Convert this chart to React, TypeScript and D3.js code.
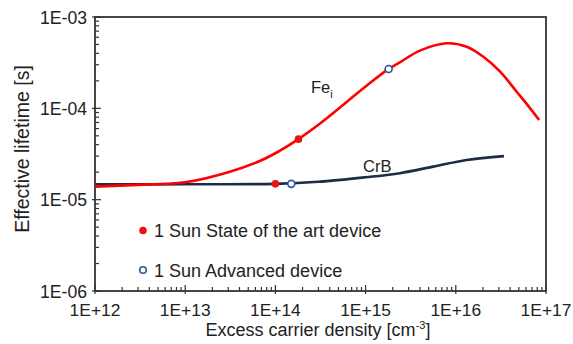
import { useEffect, useRef } from "react";
import * as d3 from "d3";

// Fe_i curve (excess carrier density [cm-3], lifetime [s])
const feDensity = [1e12, 4e12, 1e13, 3e13, 7e13, 1.1e14, 1.8e14, 3e14, 1e15, 1.8e15, 2.4e15, 4e15, 7.9e15, 1.32e16, 2.02e16, 3.1e16, 4.73e16, 6.1e16, 8.4e16];
const feLifetime = [1.39e-5, 1.47e-5, 1.55e-5, 2.0e-5, 2.7e-5, 3.4e-5, 4.6e-5, 6.6e-5, 1.73e-4, 2.7e-4, 3.19e-4, 4.28e-4, 5.15e-4, 4.73e-4, 3.67e-4, 2.52e-4, 1.52e-4, 1.12e-4, 7.45e-5];

// CrB curve
const crbDensity = [1e12, 1e13, 1e14, 3e14, 1e15, 2.4e15, 5.6e15, 1.32e16, 3.42e16];
const crbLifetime = [1.47e-5, 1.475e-5, 1.49e-5, 1.57e-5, 1.76e-5, 1.95e-5, 2.3e-5, 2.72e-5, 3.0e-5];

// operating points
const stateOfArt = [
  [1.8e14, 4.6e-5],
  [1e14, 1.49e-5],
];
const advanced = [
  [1.8e15, 2.7e-4],
  [1.5e14, 1.49e-5],
];

const xTickLabels = ["1E+12", "1E+13", "1E+14", "1E+15", "1E+16", "1E+17"];
const yTickLabels = ["1E-06", "1E-05", "1E-04", "1E-03"];

const FONT = "'Liberation Sans', Arial, sans-serif";

export default function App() {
  const svgRef = useRef<SVGSVGElement>(null);

  useEffect(() => {
    const svg = d3.select(svgRef.current);
    svg.selectAll("*").remove();

    const width = 573;
    const height = 344;
    const left = 95;
    const right = 546;
    const top = 17;
    const bottom = 291;

    const x = d3.scaleLog().domain([1e12, 1e17]).range([left, right]);
    const y = d3.scaleLog().domain([1e-6, 1e-3]).range([bottom, top]);

    svg.append("rect").attr("width", width).attr("height", height).attr("fill", "#fff");

    const axisColor = "#333";

    // minor + major ticks, pointing inward
    const xDecades = d3.range(12, 17);
    xDecades.forEach(d => {
      for (let m = 2; m <= 9; m++) {
        const px = x(m * Math.pow(10, d));
        svg.append("line")
          .attr("x1", px).attr("x2", px)
          .attr("y1", bottom).attr("y2", bottom - 4)
          .attr("stroke", axisColor).attr("stroke-width", 1.2);
      }
    });
    xTickLabels.forEach((t, i) => {
      const px = x(Math.pow(10, 12 + i));
      svg.append("line")
        .attr("x1", px).attr("x2", px)
        .attr("y1", bottom + 3).attr("y2", bottom - 6)
        .attr("stroke", axisColor).attr("stroke-width", 1.2);
      svg.append("text")
        .attr("x", px).attr("y", bottom + 25)
        .attr("text-anchor", "middle")
        .attr("font-family", FONT).attr("font-size", 17.4)
        .attr("fill", "#222")
        .text(t);
    });

    const yDecades = d3.range(-6, -3);
    yDecades.forEach(d => {
      for (let m = 2; m <= 9; m++) {
        const py = y(m * Math.pow(10, d));
        svg.append("line")
          .attr("x1", left).attr("x2", left + 4)
          .attr("y1", py).attr("y2", py)
          .attr("stroke", axisColor).attr("stroke-width", 1.2);
      }
    });
    yTickLabels.forEach((t, i) => {
      const py = y(Math.pow(10, -6 + i));
      svg.append("line")
        .attr("x1", left - 3).attr("x2", left + 6)
        .attr("y1", py).attr("y2", py)
        .attr("stroke", axisColor).attr("stroke-width", 1.2);
      svg.append("text")
        .attr("x", left - 8).attr("y", py + 6.5)
        .attr("text-anchor", "end")
        .attr("font-family", FONT).attr("font-size", 17.6)
        .attr("fill", "#222")
        .text(t);
    });

    // frame
    svg.append("rect")
      .attr("x", left).attr("y", top)
      .attr("width", right - left).attr("height", bottom - top)
      .attr("fill", "none")
      .attr("stroke", axisColor).attr("stroke-width", 1.8);

    const line = d3.line<[number, number]>()
      .x(d => x(d[0]))
      .y(d => y(d[1]))
      .curve(d3.curveCatmullRom.alpha(0.5));

    const crbPts = crbDensity.map((v, i) => [v, crbLifetime[i]] as [number, number]);
    const fePts = feDensity.map((v, i) => [v, feLifetime[i]] as [number, number]);

    svg.append("path")
      .attr("d", line(crbPts))
      .attr("fill", "none")
      .attr("stroke", "#1c2d45")
      .attr("stroke-width", 2.6);

    svg.append("path")
      .attr("d", line(fePts))
      .attr("fill", "none")
      .attr("stroke", "#ff0000")
      .attr("stroke-width", 2.6);

    // markers
    svg.selectAll(".soa")
      .data(stateOfArt)
      .enter()
      .append("circle")
      .attr("cx", d => x(d[0]))
      .attr("cy", d => y(d[1]))
      .attr("r", 3.8)
      .attr("fill", "#ee1111");

    svg.selectAll(".adv")
      .data(advanced)
      .enter()
      .append("circle")
      .attr("cx", d => x(d[0]))
      .attr("cy", d => y(d[1]))
      .attr("r", 3.5)
      .attr("fill", "#fff")
      .attr("stroke", "#2f5597")
      .attr("stroke-width", 1.6);

    // curve labels
    const fe = svg.append("text")
      .attr("x", 311).attr("y", 93)
      .attr("font-family", FONT).attr("font-size", 16.5)
      .attr("fill", "#222");
    fe.append("tspan").text("Fe");
    fe.append("tspan").attr("font-size", 11).attr("dy", 5).text("i");

    svg.append("text")
      .attr("x", 363).attr("y", 172)
      .attr("font-family", FONT).attr("font-size", 16.5)
      .attr("fill", "#222")
      .text("CrB");

    // legend
    svg.append("circle").attr("cx", 143).attr("cy", 230.5).attr("r", 3.8).attr("fill", "#ee1111");
    svg.append("text")
      .attr("x", 154).attr("y", 236.5)
      .attr("font-family", FONT).attr("font-size", 18)
      .attr("fill", "#222")
      .text("1 Sun State of the art device");

    svg.append("circle").attr("cx", 143).attr("cy", 270)
      .attr("r", 3.3).attr("fill", "#fff")
      .attr("stroke", "#2f5597").attr("stroke-width", 1.6);
    svg.append("text")
      .attr("x", 154).attr("y", 276.5)
      .attr("font-family", FONT).attr("font-size", 18)
      .attr("fill", "#222")
      .text("1 Sun Advanced device");

    // axis titles
    const xt = svg.append("text")
      .attr("x", 318).attr("y", 336)
      .attr("text-anchor", "middle")
      .attr("font-family", FONT).attr("font-size", 18)
      .attr("fill", "#222");
    xt.append("tspan").text("Excess carrier density [cm");
    xt.append("tspan").attr("font-size", 11).attr("dy", -7).text("-3");
    xt.append("tspan").attr("dy", 7).text("]");

    svg.append("text")
      .attr("transform", `translate(29,149) rotate(-90)`)
      .attr("text-anchor", "middle")
      .attr("font-family", FONT).attr("font-size", 19.5)
      .attr("fill", "#222")
      .text("Effective lifetime [s]");
  }, []);

  return (
    <svg
      ref={svgRef}
      width={573}
      height={344}
      style={{ position: "absolute", left: 0, top: 0 }}
    />
  );
}
